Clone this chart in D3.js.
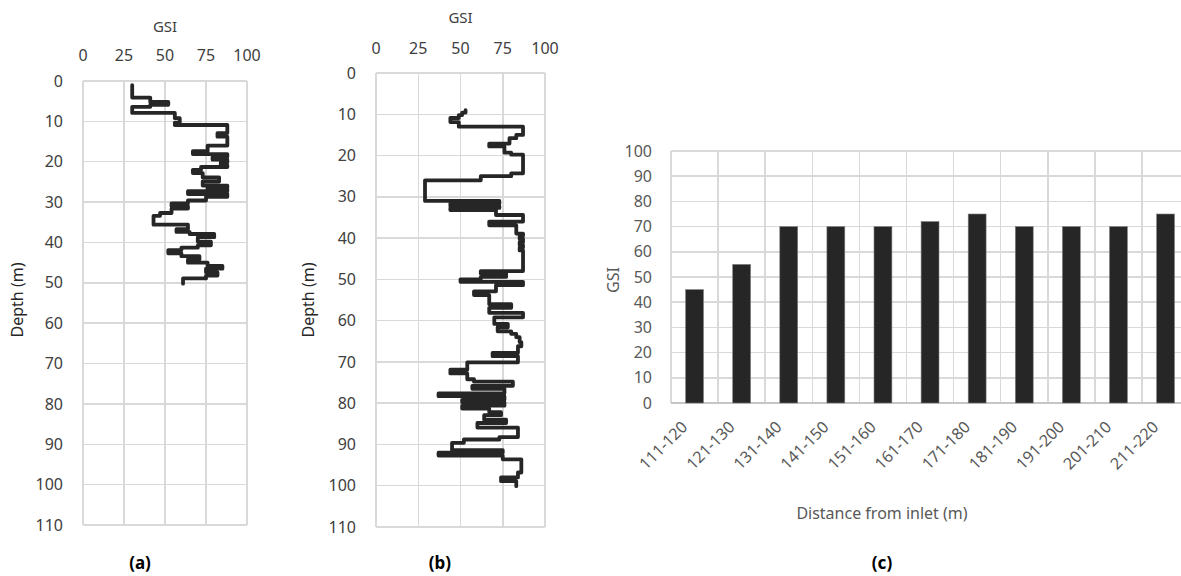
<!DOCTYPE html>
<html lang="en">
<head>
  <meta charset="UTF-8">
  <title>GSI profiles and GSI by distance</title>
  <script src="https://d3js.org/d3.v7.min.js"></script>
  <style>
    body {
      margin: 0;
      background: #fff;
      font-family: 'Noto Sans', 'Open Sans', sans-serif;
    }
    svg text { font-family: 'Noto Sans', 'Open Sans', sans-serif; }
    .grid line { stroke: #d9d9d9; stroke-width: 1.5px; shape-rendering: crispEdges; }
  </style>
</head>
<body>
<svg width="1181" height="576"></svg>

<script>
  // ---- data ----
  // panel (a): depth where each GSI value begins (m) and the GSI value
  const depthA = [1, 4.1, 5.2, 5.9, 6.4, 7.9, 9.2, 10.3, 10.9, 12.9, 13.8, 16.0, 17.4, 18.1, 18.8, 19.5,
    20.2, 20.9, 21.3, 22.0, 22.8, 23.9, 24.9, 25.9, 26.5, 26.9, 27.3, 28.0, 28.7, 29.6, 30.3, 31.0,
    31.6, 32.7, 33.4, 35.6, 36.7, 37.4, 37.9, 38.7, 39.8, 40.7, 41.3, 41.9, 42.7, 43.4, 44.2, 45.0,
    45.8, 46.5, 47.4, 48.2, 48.9, 50.2];
  const gsiA = [30, 41, 52, 41, 30, 56, 59, 56, 88, 82, 88, 76, 67, 88, 79, 88,
    84, 88, 72, 67, 73, 83, 73, 88, 76, 88, 64, 88, 75, 64, 54, 64,
    54, 47, 43, 64, 57, 65, 80, 70, 78, 70, 60, 52, 60, 71, 64, 76,
    85, 75, 82, 75, 61, 61];

  // panel (b)
  const depthB = [9.0, 9.6, 10.2, 10.9, 11.9, 13.0, 15.0, 15.8, 17.1, 17.8, 19.3, 19.8, 24.3, 25.0, 26.0,
    31.0, 31.6, 32.2, 32.7, 33.2, 34.4, 36.0, 36.9, 38.9, 39.5, 40.2, 41.0, 41.7, 42.3, 43.0,
    48.0, 48.6, 49.4, 50.0, 50.6, 51.4, 52.9, 53.8, 56.0, 56.9, 58.1, 59.2, 60.8, 61.6, 62.6,
    63.2, 64.0, 65.2, 66.2, 67.8, 68.6, 70.1, 71.9, 72.8, 74.2, 74.8, 75.8, 76.5, 77.6, 78.3,
    79.2, 79.8, 80.6, 81.3, 82.2, 82.9, 84.0, 84.8, 85.9, 88.2, 88.8, 89.6, 91.4, 92.0, 92.7,
    93.6, 96.8, 98.0, 98.9, 100.1];
  const gsiB = [53, 51, 49, 44, 49, 87, 83, 79, 67, 76, 80, 87, 80, 62, 29,
    73, 44, 73, 44, 71, 87, 67, 83, 87, 85, 87, 85, 87, 85, 87,
    62, 77, 62, 50, 87, 71, 58, 67, 80, 67, 87, 70, 78, 72, 80,
    83, 85, 86, 84, 69, 84, 54, 44, 54, 58, 81, 57, 76, 37, 76,
    51, 76, 51, 67, 74, 64, 77, 60, 84, 73, 52, 45, 75, 37, 75,
    86, 84, 74, 83, 83];

  const depthTicks = [0, 10, 20, 30, 40, 50, 60, 70, 80, 90, 100, 110];
  const gsiTicks = [0, 25, 50, 75, 100];

  // panel (c)
  const distanceBins = ["111-120", "121-130", "131-140", "141-150", "151-160", "161-170",
    "171-180", "181-190", "191-200", "201-210", "211-220"];
  const gsiByDistance = [45, 55, 70, 70, 70, 72, 75, 70, 70, 70, 75];
  const barTicks = [0, 10, 20, 30, 40, 50, 60, 70, 80, 90, 100];

  const svg = d3.select("svg");
  const ink = "#262626";

  function drawProfile(depths, values, box, label) {
    const x = d3.scaleLinear().domain([0, 100]).range([box.left, box.right]);
    const y = d3.scaleLinear().domain([0, 110]).range([box.top, box.bottom]);
    const g = svg.append("g");

    const grid = g.append("g").attr("class", "grid");
    grid.selectAll(".v").data(gsiTicks).join("line")
      .attr("x1", d => x(d)).attr("x2", d => x(d))
      .attr("y1", box.top).attr("y2", box.bottom);
    grid.selectAll(".h").data(depthTicks).join("line")
      .attr("x1", box.left).attr("x2", box.right)
      .attr("y1", d => y(d)).attr("y2", d => y(d));

    // GSI labels sit above the plot
    g.selectAll(".xt").data(gsiTicks).join("text")
      .attr("x", d => x(d)).attr("y", box.xTickY)
      .attr("text-anchor", "middle").attr("dy", "0.35em")
      .style("font-size", "16px").style("fill", "#404040")
      .text(d => d);
    g.selectAll(".yt").data(depthTicks).join("text")
      .attr("x", box.left - 20).attr("y", d => y(d))
      .attr("text-anchor", "end").attr("dy", "0.35em")
      .style("font-size", "16px").style("fill", "#404040")
      .text(d => d);

    g.append("text")
      .attr("x", (box.left + box.right) / 2).attr("y", box.titleY)
      .attr("text-anchor", "middle").attr("dy", "0.35em")
      .style("font-size", "15px").style("fill", "#404040")
      .text("GSI");
    g.append("text")
      .attr("transform", `translate(${box.depthX},300) rotate(-90)`)
      .attr("text-anchor", "middle").attr("dy", "0.35em")
      .style("font-size", "16px").style("fill", "#262626")
      .text("Depth (m)");

    const pts = depths.map((d, i) => [values[i], d]);
    const line = d3.line().x(d => x(d[0])).y(d => y(d[1])).curve(d3.curveStepBefore);
    g.append("path")
      .attr("d", line(pts))
      .attr("fill", "none")
      .attr("stroke", ink)
      .attr("stroke-width", 3.8)
      .attr("stroke-linejoin", "round")
      .attr("stroke-linecap", "round");

    g.append("text")
      .attr("x", box.labelX).attr("y", 563)
      .attr("text-anchor", "middle").attr("dy", "0.35em")
      .style("font-size", "17px").style("font-weight", "bold").style("fill", "#000")
      .text(label);
  }

  drawProfile(depthA, gsiA,
    {left: 83, right: 247, top: 81, bottom: 525, xTickY: 55, titleY: 27, depthX: 17, labelX: 140}, "(a)");
  drawProfile(depthB, gsiB,
    {left: 376, right: 545, top: 73, bottom: 527, xTickY: 48, titleY: 18, depthX: 308, labelX: 440}, "(b)");

  // ---- panel (c) ----
  const cLeft = 671, cTop = 151, cBottom = 403, bandW = 47.1;
  const xc = d3.scaleBand().domain(distanceBins)
    .range([cLeft, cLeft + bandW * distanceBins.length]).paddingInner(0).paddingOuter(0);
  const yc = d3.scaleLinear().domain([0, 100]).range([cBottom, cTop]);
  const gc = svg.append("g");

  const gridC = gc.append("g").attr("class", "grid");
  gridC.selectAll(".h").data(barTicks).join("line")
    .attr("x1", cLeft).attr("x2", xc.range()[1])
    .attr("y1", d => yc(d)).attr("y2", d => yc(d));
  gridC.selectAll(".v").data(distanceBins.map(d => xc(d)).concat([xc.range()[1]])).join("line")
    .attr("x1", d => d).attr("x2", d => d)
    .attr("y1", cTop).attr("y2", cBottom);
  gc.append("line")
    .attr("x1", cLeft).attr("x2", xc.range()[1])
    .attr("y1", cBottom).attr("y2", cBottom)
    .attr("stroke", "#bfbfbf").attr("stroke-width", 1.5);

  const barW = xc.bandwidth() * 0.38;
  gc.selectAll(".bar").data(gsiByDistance).join("rect")
    .attr("x", (d, i) => xc(distanceBins[i]) + xc.bandwidth() / 2 - barW / 2)
    .attr("y", d => yc(d))
    .attr("width", barW)
    .attr("height", d => cBottom - yc(d))
    .attr("fill", ink)
    .attr("stroke", "#7f7f7f").attr("stroke-width", 0.6);

  gc.selectAll(".yt").data(barTicks).join("text")
    .attr("x", 652).attr("y", d => yc(d))
    .attr("text-anchor", "end").attr("dy", "0.35em")
    .style("font-size", "16px").style("fill", "#595959")
    .text(d => d);

  gc.selectAll(".xt").data(distanceBins).join("text")
    .attr("transform", d => `translate(${xc(d) + xc.bandwidth() / 2 - 10},${cBottom + 21}) rotate(-45)`)
    .attr("text-anchor", "end").attr("dy", "0.35em")
    .style("font-size", "16px").style("fill", "#595959")
    .text(d => d);

  gc.append("text")
    .attr("transform", `translate(613,280) rotate(-90)`)
    .attr("text-anchor", "middle").attr("dy", "0.35em")
    .style("font-size", "16px").style("fill", "#595959")
    .text("GSI");
  gc.append("text")
    .attr("x", 882).attr("y", 513)
    .attr("text-anchor", "middle").attr("dy", "0.35em")
    .style("font-size", "16px").style("fill", "#595959")
    .text("Distance from inlet (m)");
  gc.append("text")
    .attr("x", 882).attr("y", 563)
    .attr("text-anchor", "middle").attr("dy", "0.35em")
    .style("font-size", "17px").style("font-weight", "bold").style("fill", "#000")
    .text("(c)");
</script>
</body>
</html>
